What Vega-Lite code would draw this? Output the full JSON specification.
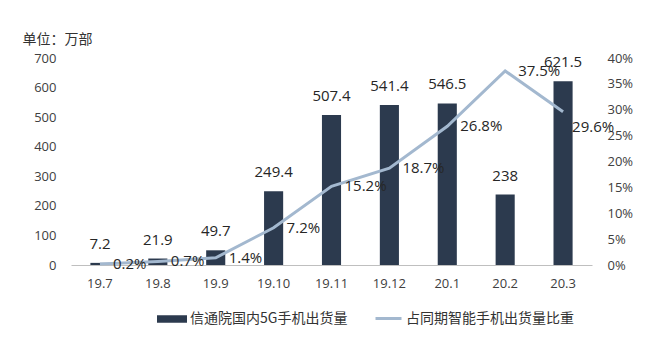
{
  "$schema": "https://vega.github.io/schema/vega-lite/v6.json",
  "width": 521,
  "height": 207,
  "autosize": "none",
  "padding": {"left": 71, "top": 58, "right": 57, "bottom": 91},
  "background": "#ffffff",
  "config": {
    "view": {"stroke": null},
    "font": "Open Sans",
    "axis": {"grid": false, "ticks": false, "labelColor": "#404040", "labelFontSize": 13, "labelFont": "Open Sans", "labelOverlap": false}
  },
  "data": {
    "values": [
      {"month": "19.7", "shipments": 7.2, "share": 0.002, "shareLabel": "0.2%"},
      {"month": "19.8", "shipments": 21.9, "share": 0.007, "shareLabel": "0.7%"},
      {"month": "19.9", "shipments": 49.7, "share": 0.014, "shareLabel": "1.4%"},
      {"month": "19.10", "shipments": 249.4, "share": 0.072, "shareLabel": "7.2%"},
      {"month": "19.11", "shipments": 507.4, "share": 0.152, "shareLabel": "15.2%"},
      {"month": "19.12", "shipments": 541.4, "share": 0.187, "shareLabel": "18.7%"},
      {"month": "20.1", "shipments": 546.5, "share": 0.268, "shareLabel": "26.8%"},
      {"month": "20.2", "shipments": 238, "share": 0.375, "shareLabel": "37.5%"},
      {"month": "20.3", "shipments": 621.5, "share": 0.296, "shareLabel": "29.6%"}
    ]
  },
  "encoding": {
    "x": {
      "field": "month", "type": "ordinal", "sort": null,
      "scale": {"paddingInner": 0.67, "paddingOuter": 0.335},
      "axis": {"title": null, "labelAngle": 0, "domainColor": "#bfbfbf", "domainWidth": 1, "labelPadding": 12}
    }
  },
  "layer": [
    {
      "encoding": {
        "y": {
          "field": "shipments", "type": "quantitative",
          "scale": {"domain": [0, 700], "nice": false},
          "axis": {
            "values": [0, 100, 200, 300, 400, 500, 600, 700], "labelOverlap": false,
            "domain": false, "labelPadding": 15,
            "title": "单位：万部", "titleAngle": 0, "titleAlign": "left", "titleBaseline": "middle",
            "titleX": -49, "titleY": -19, "titleFont": "Noto Sans CJK SC", "titleFontSize": 14,
            "titleFontWeight": "normal", "titleColor": "#333333"
          }
        }
      },
      "layer": [
        {
          "mark": {"type": "bar"},
          "encoding": {
            "fill": {
              "datum": "信通院国内5G手机出货量",
              "scale": {"range": ["#2c3a4e"]},
              "legend": {
                "title": null, "orient": "none", "legendX": 86, "legendY": 246,
                "symbolType": "M-1,-0.25H1V0.25H-1Z", "symbolSize": 900, "symbolStrokeWidth": 0,
                "labelFont": "Noto Sans CJK SC", "labelFontSize": 14, "labelColor": "#333333", "labelOffset": 3, "labelLimit": 300
              }
            }
          }
        },
        {
          "mark": {"type": "text", "baseline": "middle", "dy": -19, "fontSize": 15, "color": "#262626", "font": "Open Sans"},
          "encoding": {
            "text": {"field": "shipments", "type": "quantitative"}
          }
        }
      ]
    },
    {
      "encoding": {
        "y": {
          "field": "share", "type": "quantitative",
          "scale": {"domain": [0, 0.4], "nice": false},
          "axis": {
            "orient": "right", "values": [0, 0.05, 0.1, 0.15, 0.2, 0.25, 0.3, 0.35, 0.4], "labelOverlap": false,
            "format": ".0%", "domain": false, "labelPadding": 15, "title": null
          }
        }
      },
      "layer": [
        {
          "mark": {"type": "line", "strokeWidth": 3, "interpolate": "linear"},
          "encoding": {
            "stroke": {
              "datum": "占同期智能手机出货量比重",
              "scale": {"range": ["#a3b8cf"]},
              "legend": {
                "title": null, "orient": "none", "legendX": 303, "legendY": 246,
                "symbolType": "stroke", "symbolSize": 676, "symbolStrokeWidth": 3,
                "labelFont": "Noto Sans CJK SC", "labelFontSize": 14, "labelColor": "#333333", "labelOffset": 3, "labelLimit": 300
              }
            }
          }
        },
        {
          "transform": [{"filter": "datum.month != '20.3'"}],
          "mark": {"type": "text", "align": "left", "baseline": "middle", "dx": 13, "fontSize": 15, "color": "#262626", "font": "Open Sans"},
          "encoding": {
            "text": {"field": "shareLabel", "type": "nominal"}
          }
        },
        {
          "transform": [{"filter": "datum.month == '20.3'"}],
          "mark": {"type": "text", "align": "left", "baseline": "middle", "dx": 9, "dy": 15, "fontSize": 15, "color": "#262626", "font": "Open Sans"},
          "encoding": {
            "text": {"field": "shareLabel", "type": "nominal"}
          }
        }
      ]
    }
  ],
  "resolve": {"scale": {"y": "independent"}}
}
